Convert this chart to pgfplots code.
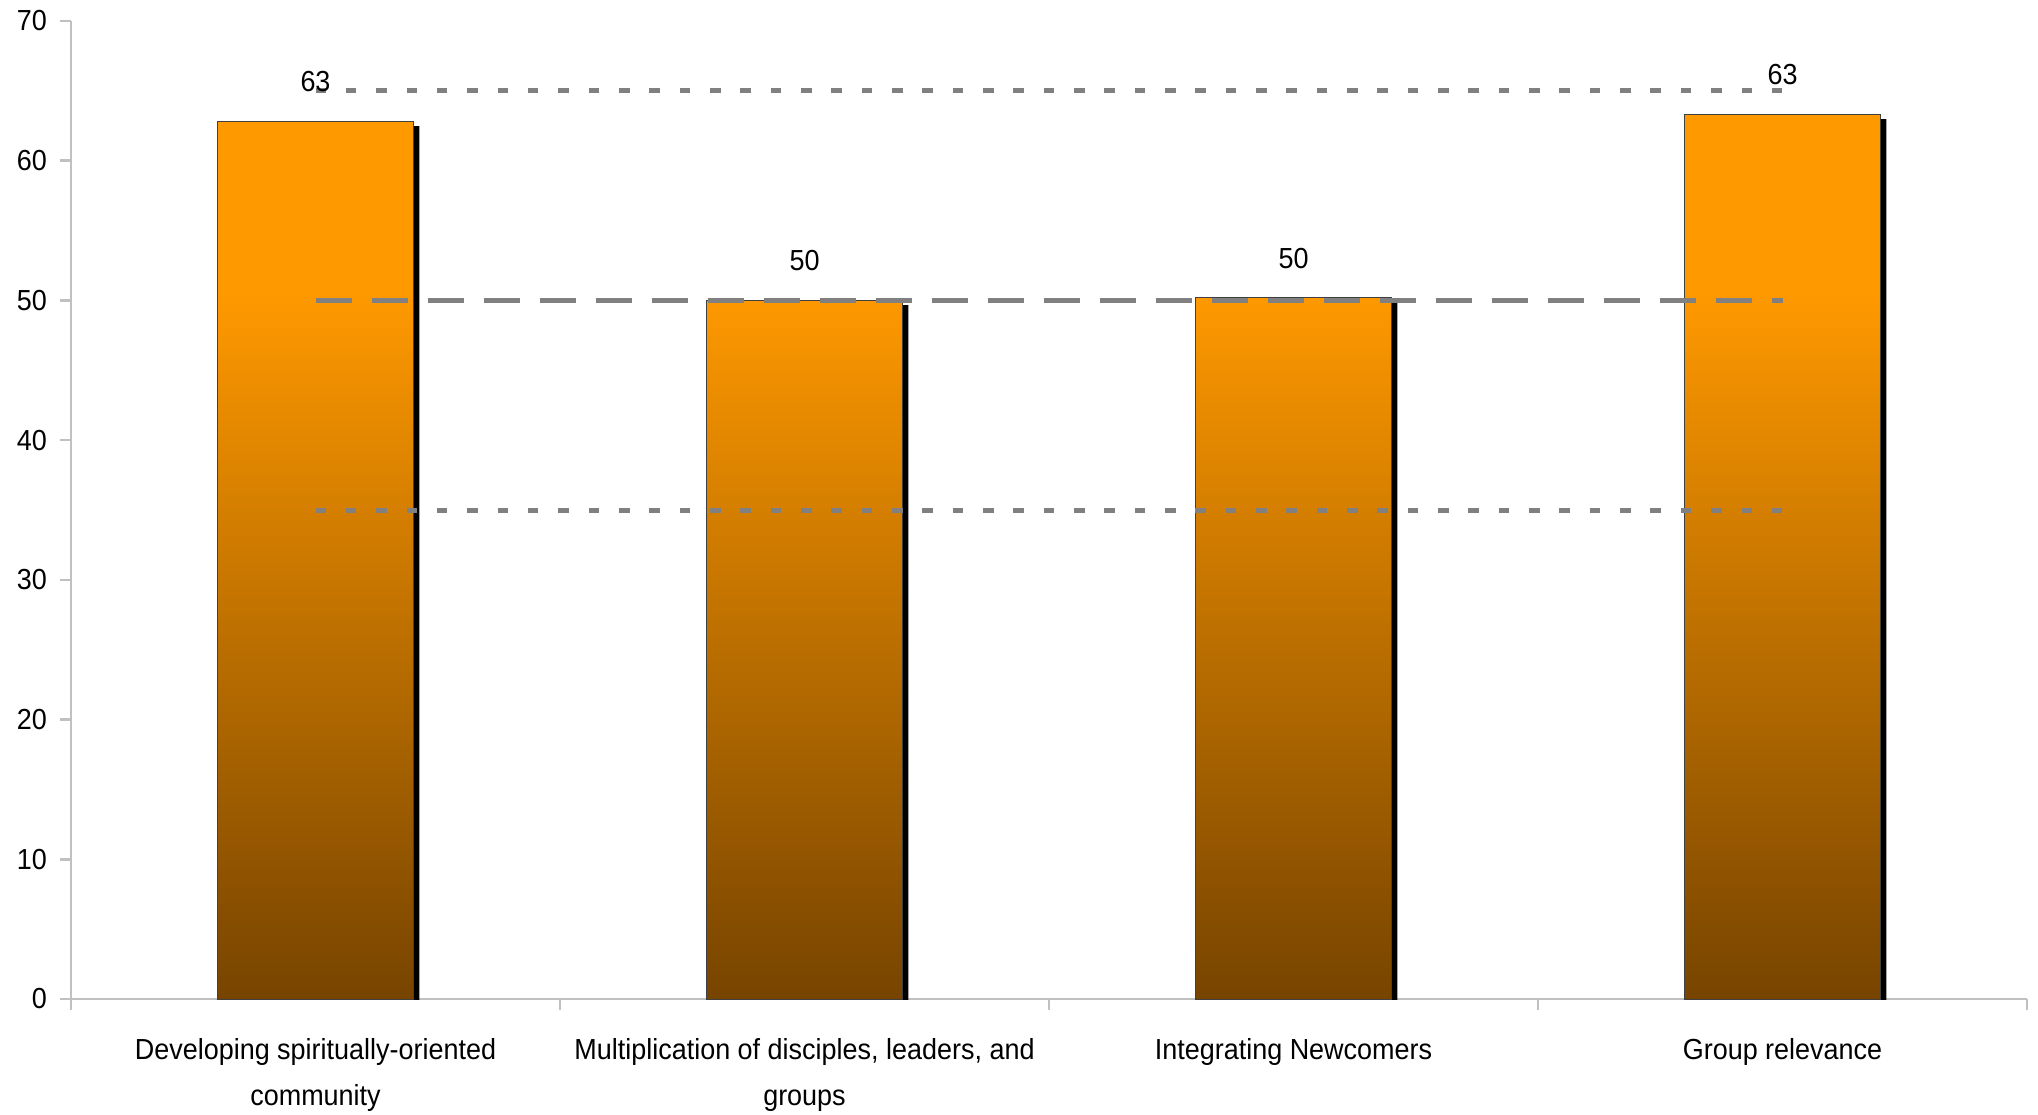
\documentclass[border=0pt]{standalone}
\usepackage{fontspec}
\setmainfont[FakeStretch=0.93]{Liberation Sans}
\usepackage{pgfplots}
\pgfplotsset{compat=1.18}
\definecolor{axgray}{RGB}{192,192,192}
\definecolor{refgray}{RGB}{128,128,128}
\definecolor{barorange}{HTML}{FF9900}
\definecolor{barbrown}{HTML}{774400}
\pgfdeclareverticalshading{barshade}{100bp}{color(0bp)=(barbrown); color(25bp)=(barbrown); color(65bp)=(barorange); color(75bp)=(barorange); color(100bp)=(barorange)}
\begin{document}
\begin{tikzpicture}
\begin{axis}[
  scale only axis, width=978pt, height=489pt,
  at={(0,0)}, anchor=south west,
  xmin=-0.5, xmax=3.5, ymin=0, ymax=70,
  axis x line*=bottom, axis y line*=left,
  axis line style={draw=axgray, line width=1.3pt},
  ytick={0,10,...,70},
  xtick={0,1,2,3},
  xticklabels={{Developing spiritually-oriented\\community},{Multiplication of disciples, leaders, and\\groups},{Integrating Newcomers},{Group relevance}},
  minor xtick={-0.5,0.5,1.5,2.5,3.5},
  tick align=outside,
  major tick length=5.5pt, minor tick length=5.5pt,
  tick style={draw=axgray, line width=1.3pt},
  major x tick style={draw=none},
  minor x tick style={draw=axgray, line width=1.3pt},
  /pgf/number format/assume math mode=true,
  yticklabel style={font=\fontsize{14.5}{17}\selectfont, xshift=-3pt},
  xticklabel style={font=\fontsize{14.5}{23}\selectfont, align=center, yshift=-10.8pt},
]
% shadow
\addplot[ybar, bar width=0.4, bar shift=0pt, fill=black, draw=none,
  transform canvas={xshift=3pt,yshift=-2.5pt}]
  coordinates {(0,62.83) (1,50.03) (2,50.2) (3,63.33)};
% bars
\addplot[ybar, bar width=0.4, bar shift=0pt, shading=barshade, draw=black!75, line width=0.5pt]
  coordinates {(0,62.83) (1,50.03) (2,50.2) (3,63.33)};
% value labels
\addplot[ybar, bar width=0.4, bar shift=0pt, draw=none, fill=none,
  nodes near coords={\pgfmathprintnumber[fixed,precision=0]{\pgfplotspointmeta}},
  every node near coord/.append style={text=black, font=\fontsize{14.5}{17}\selectfont, yshift=11pt}]
  coordinates {(0,62.83) (1,50.03) (2,50.2) (3,63.33)};
\addplot[refgray, line width=2.5pt, dash pattern=on 5.3pt off 9.87pt] coordinates {(0,65) (3,65)};
\addplot[refgray, line width=2.6pt, dash pattern=on 18pt off 10pt] coordinates {(0,50) (3,50)};
\addplot[refgray, line width=2.5pt, dash pattern=on 5.3pt off 9.87pt] coordinates {(0,35) (3,35)};
\end{axis}
\pgfresetboundingbox
\path[use as bounding box] (-35.5pt,-57.5pt) rectangle (983.5pt,499.5pt);
\end{tikzpicture}
\end{document}
